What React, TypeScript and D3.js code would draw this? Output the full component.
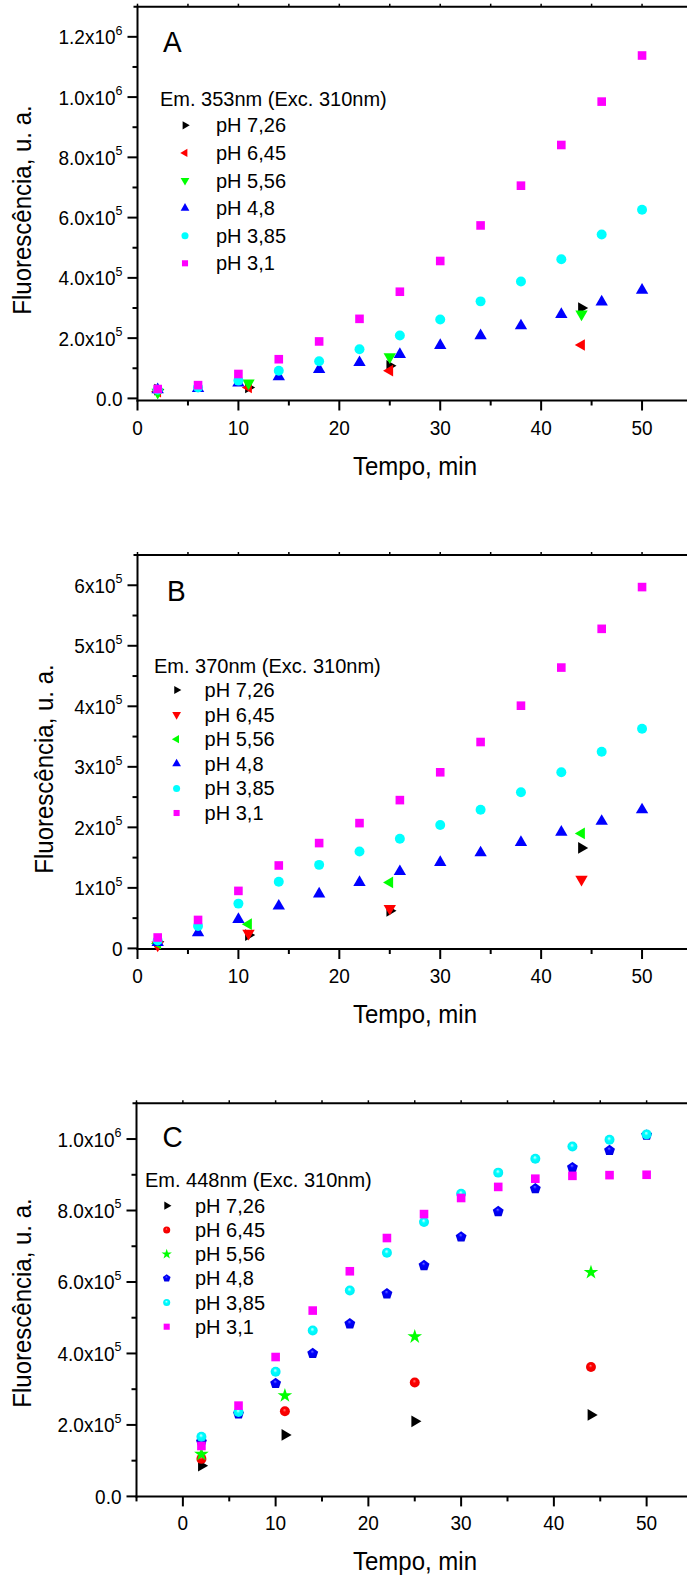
import React from "react";
import * as d3 from "d3";

// ---------- DATA ----------
const timesFull = [2, 6, 10, 14, 18, 22, 26, 30, 34, 38, 42, 46, 50];
const timesShort = [2, 11, 25, 44];
const phLabels = ["pH 7,26", "pH 6,45", "pH 5,56", "pH 4,8", "pH 3,85", "pH 3,1"];
const seriesColors = ["#000000", "#ff0000", "#00ff00", "#0000ff", "#00ffff", "#ff00ff"];

// Panel A: Em. 353nm
const aPH726 = [29000, 36000, 108000, 300000];
const aPH645 = [22000, 36000, 92000, 177000];
const aPH556 = [20000, 51000, 138000, 280000];
const aPH48 = [29000, 33000, 51000, 72000, 96000, 119000, 146000, 176000, 208000, 241000, 279000, 320000, 359000];
const aPH385 = [29000, 36000, 59000, 92000, 123000, 163000, 209000, 262000, 322000, 388000, 462000, 544000, 626000];
const aPH31 = [31000, 44000, 81000, 130000, 189000, 264000, 354000, 456000, 574000, 706000, 841000, 985000, 1138000];

// Panel B: Em. 370nm
const bPH726 = [11000, 22000, 62000, 166000];
const bPH645 = [5500, 25000, 66000, 114000];
const bPH556 = [8000, 40000, 109000, 190000];
const bPH48 = [10000, 26000, 48000, 70000, 90000, 109000, 127000, 142000, 158000, 175000, 192000, 210000, 229000];
const bPH385 = [13000, 37000, 74000, 110000, 138000, 160000, 181000, 204000, 229000, 258000, 291000, 325000, 363000];
const bPH31 = [18000, 47000, 95000, 137000, 174000, 207000, 245000, 291000, 341000, 401000, 464000, 528000, 597000];

// Panel C: Em. 448nm
const cPH726 = [86000, 172000, 210000, 228000];
const cPH645 = [105000, 238000, 319000, 362000];
const cPH556 = [118000, 282000, 447000, 627000];
const cPH48 = [153000, 231000, 316000, 400000, 483000, 567000, 646000, 726000, 797000, 861000, 920000, 968000, 1011000];
const cPH385 = [167000, 236000, 349000, 464000, 576000, 682000, 768000, 847000, 906000, 945000, 979000, 998000, 1013000];
const cPH31 = [141000, 254000, 390000, 520000, 630000, 723000, 790000, 835000, 866000, 889000, 897000, 899000, 900000];

// Tick values
const xMajorTicks = [0, 10, 20, 30, 40, 50];
const xMinorTicksAB = [5, 15, 25, 35, 45];
const xMinorTicksC = [-5, 5, 15, 25, 35, 45];
const yMajorA = [0, 200000, 400000, 600000, 800000, 1000000, 1200000];
const yMinorA = [100000, 300000, 500000, 700000, 900000, 1100000];
const yMajorB = [0, 100000, 200000, 300000, 400000, 500000, 600000];
const yMinorB = [50000, 150000, 250000, 350000, 450000, 550000];
const yMajorC = [0, 200000, 400000, 600000, 800000, 1000000];
const yMinorC = [100000, 300000, 500000, 700000, 900000];

const legendTitles = ["Em. 353nm (Exc. 310nm)", "Em. 370nm (Exc. 310nm)", "Em. 448nm (Exc. 310nm)"];
const panelLetters = ["A", "B", "C"];
const xTitle = "Tempo, min";
const yTitle = "Fluorescência, u. a.";

const FONT = "Arial, 'Liberation Sans', Helvetica, sans-serif";
const SY = 1.08;

type Shape = "right" | "left" | "down" | "up" | "circle" | "square" | "star" | "pentagon";

function symbolPath(shape: Shape, size: number): { d: string; rot: number } {
  switch (shape) {
    case "right":
      return { d: d3.symbol(d3.symbolTriangle, size * 0.75)() as string, rot: 90 };
    case "left":
      return { d: d3.symbol(d3.symbolTriangle, size * 0.75)() as string, rot: -90 };
    case "down":
      return { d: d3.symbol(d3.symbolTriangle, size * 0.85)() as string, rot: 180 };
    case "up":
      return { d: d3.symbol(d3.symbolTriangle, size * 0.85)() as string, rot: 0 };
    case "square":
      return { d: d3.symbol(d3.symbolSquare, size * 0.95)() as string, rot: 0 };
    case "star":
      return { d: d3.symbol(d3.symbolStar, size * 0.85)() as string, rot: 0 };
    case "pentagon": {
      const r = Math.sqrt(size / 2.38);
      const pts = d3.range(5).map((i) => {
        const a = -Math.PI / 2 + (i * 2 * Math.PI) / 5;
        return [r * Math.cos(a), r * Math.sin(a)] as [number, number];
      });
      return { d: (d3.line()(pts) as string) + "Z", rot: 0 };
    }
    default:
      return { d: d3.symbol(d3.symbolCircle, size)() as string, rot: 0 };
  }
}

interface Series {
  label: string;
  color: string;
  shape: Shape;
  fill?: string;
  xs: number[];
  ys: number[];
}

interface PanelCfg {
  letter: string;
  title: string;
  top: number;
  bottom: number;
  left: number;
  right: number;
  xDomain: [number, number];
  yDomain: [number, number];
  xMinor: number[];
  yMajor: number[];
  yMinor: number[];
  intLabels: boolean;
  yTitleX: number;
  yTitleY: number;
  legend: { hx: number; hy: number; sx: number; tx: number; y0: number; step: number };
  letterPos: [number, number];
  series: Series[];
  markerSize: number;
}

function tickLabel(v: number, intLabels: boolean) {
  if (v === 0) return { m: intLabels ? "0" : "0.0", e: "" };
  const e = Math.floor(Math.log10(v) + 1e-9);
  const m = v / Math.pow(10, e);
  return { m: (intLabels ? m.toFixed(0) : m.toFixed(1)) + "x10", e: String(e) };
}

function Panel({ cfg }: { cfg: PanelCfg }) {
  const x = d3.scaleLinear().domain(cfg.xDomain).range([cfg.left, cfg.right]);
  const y = d3.scaleLinear().domain(cfg.yDomain).range([cfg.bottom, cfg.top]);
  const L = cfg.left;
  const B = cfg.bottom;
  const T = cfg.top;
  const sw = 2;
  return (
    <g>
      {/* frame */}
      <line x1={L - 4} x2={cfg.right} y1={T} y2={T} stroke="#000" strokeWidth={sw} />
      <line x1={L} x2={L} y1={T - 1} y2={B + 1} stroke="#000" strokeWidth={sw} />
      <line x1={L - 1} x2={cfg.right} y1={B} y2={B} stroke="#000" strokeWidth={sw} />
      <line x1={cfg.right} x2={cfg.right} y1={T} y2={B} stroke="#000" strokeWidth={sw} />
      {/* top axis small ticks */}
      {[...xMajorTicks, ...cfg.xMinor].map((t, i) => (
        <line key={"tt" + i} x1={x(t)} x2={x(t)} y1={T} y2={T - 3} stroke="#000" strokeWidth={1.5} />
      ))}
      {/* x ticks */}
      {xMajorTicks.map((t) => (
        <g key={"xm" + t}>
          <line x1={x(t)} x2={x(t)} y1={B} y2={B + 10} stroke="#000" strokeWidth={sw} />
          <text
            transform={`translate(${x(t)},${B + 34}) scale(1,${SY})`}
            textAnchor="middle"
            fontSize={19}
            fontFamily={FONT}
            fill="#000"
          >
            {t}
          </text>
        </g>
      ))}
      {cfg.xMinor.map((t) => (
        <line key={"xn" + t} x1={x(t)} x2={x(t)} y1={B} y2={B + 5} stroke="#000" strokeWidth={sw} />
      ))}
      {/* y ticks */}
      {cfg.yMajor.map((t) => {
        const lab = tickLabel(t, cfg.intLabels);
        return (
          <g key={"ym" + t}>
            <line x1={L - 10} x2={L} y1={y(t)} y2={y(t)} stroke="#000" strokeWidth={sw} />
            <text
              transform={`translate(${L - 15},${y(t) + 7.5}) scale(1,${SY})`}
              textAnchor="end"
              fontSize={19}
              fontFamily={FONT}
              fill="#000"
            >
              {lab.m}
              {lab.e && (
                <tspan dy={-9} fontSize={12.5}>
                  {lab.e}
                </tspan>
              )}
            </text>
          </g>
        );
      })}
      {cfg.yMinor.map((t) => (
        <line key={"yn" + t} x1={L - 5} x2={L} y1={y(t)} y2={y(t)} stroke="#000" strokeWidth={sw} />
      ))}
      {/* axis titles */}
      <text
        transform={`translate(415,${B + 74}) scale(1,${SY})`}
        textAnchor="middle"
        fontSize={24}
        fontFamily={FONT}
        fill="#000"
      >
        {xTitle}
      </text>
      <text
        transform={`translate(${cfg.yTitleX},${cfg.yTitleY}) rotate(-90) scale(1,${SY})`}
        textAnchor="middle"
        fontSize={24}
        fontFamily={FONT}
        fill="#000"
      >
        {yTitle}
      </text>
      {/* panel letter */}
      <text
        transform={`translate(${cfg.letterPos[0]},${cfg.letterPos[1]}) scale(1,${SY})`}
        fontSize={28}
        fontFamily={FONT}
        fill="#000"
      >
        {cfg.letter}
      </text>
      {/* data */}
      {cfg.series.map((s, si) => {
        const sym = symbolPath(s.shape, cfg.markerSize);
        return (
          <g key={"s" + si}>
            {s.ys.map((v, i) => (
              <path
                key={i}
                d={sym.d}
                transform={`translate(${x(s.xs[i])},${y(v)}) rotate(${sym.rot})`}
                fill={s.fill || s.color}
              />
            ))}
          </g>
        );
      })}
      {/* legend */}
      <text x={cfg.legend.hx} y={cfg.legend.hy} fontSize={20} fontFamily={FONT} fill="#000">
        {cfg.title}
      </text>
      {cfg.series.map((s, si) => {
        const sym = symbolPath(s.shape, cfg.markerSize * 0.5);
        const by = cfg.legend.y0 + si * cfg.legend.step;
        return (
          <g key={"l" + si}>
            <path
              d={sym.d}
              transform={`translate(${cfg.legend.sx},${by - 7}) rotate(${sym.rot})`}
              fill={s.fill || s.color}
            />
            <text x={cfg.legend.tx} y={by} fontSize={20} fontFamily={FONT} fill="#000">
              {s.label}
            </text>
          </g>
        );
      })}
    </g>
  );
}

function makeSeries(
  shapes: Shape[],
  vals: number[][],
  fills?: (string | undefined)[]
): Series[] {
  return vals.map((v, i) => ({
    label: phLabels[i],
    color: seriesColors[i],
    shape: shapes[i],
    fill: fills ? fills[i] : undefined,
    xs: v.length === timesShort.length ? timesShort : timesFull,
    ys: v,
  }));
}

export default function App() {
  const panels: PanelCfg[] = [
    {
      letter: panelLetters[0],
      title: legendTitles[0],
      top: 6.7,
      bottom: 400.5,
      left: 137.5,
      right: 692.5,
      xDomain: [0, 55],
      yDomain: [-7000, 1300000],
      xMinor: xMinorTicksAB,
      yMajor: yMajorA,
      yMinor: yMinorA,
      intLabels: false,
      yTitleX: 31,
      yTitleY: 210,
      legend: { hx: 160, hy: 106, sx: 185, tx: 216, y0: 132.3, step: 27.6 },
      letterPos: [163, 51.7],
      markerSize: 78,
      series: makeSeries(
        ["right", "left", "down", "up", "circle", "square"],
        [aPH726, aPH645, aPH556, aPH48, aPH385, aPH31]
      ),
    },
    {
      letter: panelLetters[1],
      title: legendTitles[1],
      top: 555,
      bottom: 949,
      left: 137.5,
      right: 692.5,
      xDomain: [0, 55],
      yDomain: [-1000, 650000],
      xMinor: xMinorTicksAB,
      yMajor: yMajorB,
      yMinor: yMinorB,
      intLabels: true,
      yTitleX: 53,
      yTitleY: 769,
      legend: { hx: 154, hy: 672.7, sx: 176.6, tx: 204.6, y0: 697, step: 24.6 },
      letterPos: [167, 601],
      markerSize: 78,
      series: makeSeries(
        ["right", "down", "left", "up", "circle", "square"],
        [bPH726, bPH645, bPH556, bPH48, bPH385, bPH31]
      ),
    },
    {
      letter: panelLetters[2],
      title: legendTitles[2],
      top: 1103.3,
      bottom: 1496.4,
      left: 136.5,
      right: 693,
      xDomain: [-5, 55],
      yDomain: [0, 1100000],
      xMinor: xMinorTicksC,
      yMajor: yMajorC,
      yMinor: yMinorC,
      intLabels: false,
      yTitleX: 31,
      yTitleY: 1303,
      legend: { hx: 145, hy: 1186.7, sx: 166.7, tx: 195, y0: 1212.7, step: 24.2 },
      letterPos: [162.5, 1147],
      markerSize: 78,
      series: makeSeries(
        ["right", "circle", "star", "pentagon", "circle", "square"],
        [cPH726, cPH645, cPH556, cPH48, cPH385, cPH31],
        [undefined, "url(#gRed)", undefined, "url(#gBlue)", "url(#gCyan)", undefined]
      ),
    },
  ];
  return (
    <div style={{ position: "absolute", left: 0, top: 0 }}>
      <svg width={687} height={1576} style={{ display: "block", background: "#fff" }}>
        <defs>
          <radialGradient id="gCyan" cx="0.5" cy="0.5" r="0.5" fx="0.45" fy="0.35">
            <stop offset="0" stopColor="#c8ffff" />
            <stop offset="0.18" stopColor="#80ffff" />
            <stop offset="0.4" stopColor="#00ffff" />
            <stop offset="1" stopColor="#00eef6" />
          </radialGradient>
          <radialGradient id="gRed" cx="0.5" cy="0.5" r="0.5" fx="0.45" fy="0.35">
            <stop offset="0" stopColor="#ff8080" />
            <stop offset="0.35" stopColor="#ff0000" />
            <stop offset="1" stopColor="#ee0000" />
          </radialGradient>
          <radialGradient id="gBlue" cx="0.5" cy="0.5" r="0.5" fx="0.45" fy="0.35">
            <stop offset="0" stopColor="#6868ff" />
            <stop offset="0.35" stopColor="#0000ff" />
            <stop offset="1" stopColor="#0000e0" />
          </radialGradient>
        </defs>
        <rect x={0} y={0} width={687} height={1576} fill="#fff" />
        {panels.map((p) => (
          <Panel key={p.letter} cfg={p} />
        ))}
      </svg>
    </div>
  );
}
